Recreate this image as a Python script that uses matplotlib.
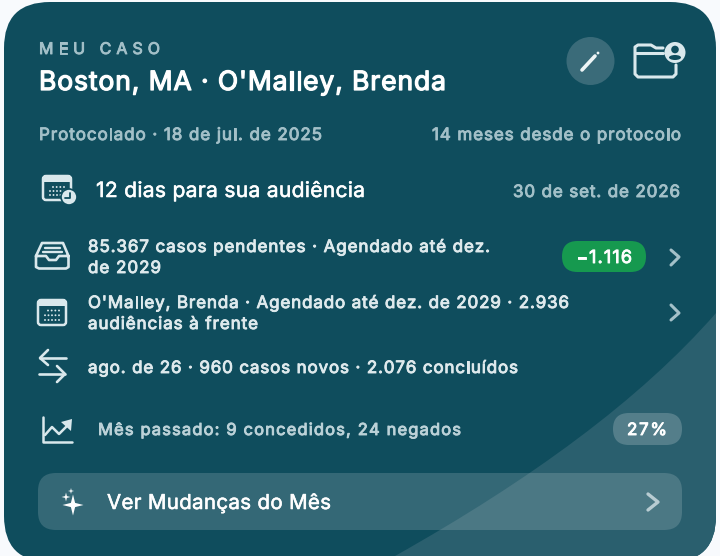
import numpy as np
import matplotlib
matplotlib.use("Agg")
import matplotlib.pyplot as plt
import matplotlib.patheffects as pe
from matplotlib.patches import FancyBboxPatch, Circle, Polygon, PathPatch, Rectangle, Ellipse
from matplotlib.path import Path
from matplotlib.text import Text
from matplotlib.transforms import IdentityTransform

plt.rcParams['font.family'] = ['Inter', 'DejaVu Sans']
plt.rcParams['text.hinting'] = 'no_hinting'

eyebrow = "MEU CASO"
title = "Boston, MA · O'Malley, Brenda"
filed = "Protocolado · 18 de jul. de 2025"
since = "14 meses desde o protocolo"
hearing = "12 dias para sua audiência"
hearing_date = "30 de set. de 2026"
row1 = ["85.367 casos pendentes · Agendado até dez.", "de 2029"]
row2 = ["O'Malley, Brenda · Agendado até dez. de 2029 · 2.936", "audiências à frente"]
row3 = "ago. de 26 · 960 casos novos · 2.076 concluídos"
row4 = "Mês passado: 9 concedidos, 24 negados"
delta = "−1.116"
rate = "27%"
button = "Ver Mudanças do Mês"

CARD = '#0f4d5d'; WAVE = '#2a5f6e'; MUTED = '#a3c0c8'; SOFT = '#dfeaed'; ICON = '#d9e8ec'

fig = plt.figure(figsize=(7.2, 5.56), dpi=100, facecolor='#f8fafd')
ax = fig.add_axes([0, 0, 1, 1])
ax.set_xlim(0, 720); ax.set_ylim(556, 0); ax.axis('off')


class TrackedText(Text):
    """One text artist with its full string, laid out to a given width (CSS letter-spacing)."""
    target = None

    def _natural(self, renderer, s):
        return renderer.get_text_width_height_descent(s, self.get_fontproperties(), False)[0] if s else 0.0

    def draw(self, renderer):
        s = self.get_text()
        x, y = self.get_transform().transform(self.get_position())
        full = self._natural(renderer, s)
        total = self.target if self.target else full
        track = (total - full) / max(len(s) - 1, 1)
        ha = self.get_ha()
        x0 = x - total if ha == 'right' else x - total / 2 if ha == 'center' else x
        for i, ch in enumerate(s):
            if ch == ' ':
                continue
            t = Text(x0 + self._natural(renderer, s[:i + 1]) - self._natural(renderer, ch) + i * track, y, ch,
                     transform=IdentityTransform(), fontproperties=self.get_fontproperties(),
                     color=self.get_color(), va='baseline', ha='left', path_effects=self.get_path_effects())
            t.set_figure(self.get_figure())
            t.draw(renderer)


def rrect(x0, y0, x1, y1, r, **kw):
    p = FancyBboxPatch((x0 + r, y0 + r), x1 - x0 - 2 * r, y1 - y0 - 2 * r,
                       boxstyle=f"round,pad={r},rounding_size={r}", lw=kw.pop('lw', 0), **kw)
    ax.add_patch(p)
    return p

def polyline(pts, lw=2, color=ICON, z=5):
    a = np.array(pts)
    ax.plot(a[:, 0], a[:, 1], color=color, lw=lw, solid_capstyle='round', solid_joinstyle='round', zorder=z)

def label(x, y, s, px, color, width=None, bold=0.65, ha='left'):
    t = TrackedText(x, y, s, fontsize=px * 0.72, color=color, ha=ha, va='baseline', zorder=6,
                    transform=ax.transData,
                    path_effects=[pe.withStroke(linewidth=bold, foreground=color)] if bold else None)
    t.target = width
    ax.add_artist(t)
    return t

# card and wave
card = rrect(4, 2, 716, 562, 46, facecolor=CARD, zorder=1)
wv = Path([(716, 313), (640, 400), (530, 480), (395, 556), (395, 600), (716, 600), (716, 313)],
          [Path.MOVETO, Path.CURVE4, Path.CURVE4, Path.CURVE4, Path.LINETO, Path.LINETO, Path.CLOSEPOLY])
wave = PathPatch(wv, facecolor=WAVE, lw=0, zorder=2)
ax.add_patch(wave)
wave.set_clip_path(card)

# header
label(39, 54, eyebrow, 16, MUTED, width=121)
label(39, 90, title, 26.5, 'white', width=407, bold=0.9)
ax.add_patch(Circle((590.5, 61), 24, facecolor='#3a6b79', lw=0, zorder=3))
polyline([(582, 70), (595, 56)], lw=2.6, color='#eef5f6')
ax.add_patch(Circle((598, 53), 1.4, facecolor='#eef5f6', lw=0, zorder=5))

# folder icon
polyline([(663, 48), (656, 48), (651, 45), (638, 45), (635, 47), (635, 74), (638, 77), (673, 77), (676, 74), (676, 65)], lw=2.2)
polyline([(636, 53), (663, 53)], lw=2.2)
ax.add_patch(Circle((675, 52.5), 10.5, facecolor=ICON, lw=0, zorder=5))
ax.add_patch(Circle((675, 49.5), 3.8, facecolor=CARD, lw=0, zorder=6))
ax.add_patch(Ellipse((675, 57.5), 12, 5, facecolor=CARD, lw=0, zorder=6))

# filed row
label(39, 140, filed, 17, MUTED, width=283)
label(681, 140, since, 17, MUTED, width=249, ha='right')

# calendar + clock
def calendar(x0, y0, x1, y1, head=6):
    rrect(x0, y0, x1, y1, 3, facecolor='none', edgecolor=ICON, lw=1.8, zorder=5)
    ax.add_patch(Rectangle((x0, y0), x1 - x0, head, facecolor=ICON, lw=0, zorder=5))
    for i, yy in enumerate(np.linspace(y0 + head + 5, y1 - 5, 3)):
        for xx in np.linspace(x0 + 7 + (3 if i == 0 else 0), x1 - 7, 5 if i else 4):
            ax.add_patch(Circle((xx, yy), 0.95, facecolor=ICON, lw=0, zorder=5))

calendar(43, 176, 71, 200, head=6)
ax.add_patch(Circle((69, 197), 8, facecolor=ICON, edgecolor=CARD, lw=1.2, zorder=6))
polyline([(69.5, 192.5), (69.5, 197.5), (65, 197.5)], lw=1.3, color=CARD, z=7)
label(96, 197, hearing, 21, 'white', width=269, bold=0.4)
label(680, 197, hearing_date, 17, MUTED, width=167, ha='right')

# inbox icon
polyline([(36, 256), (36, 267), (39, 268.5), (66, 268.5), (68.5, 267), (68.5, 256), (63, 243), (42, 243), (36, 256),
          (46, 256), (49, 260), (56, 260), (59, 256), (68.5, 256)], lw=1.9)
polyline([(45, 248), (60, 248)], lw=1.7)
polyline([(43, 252), (62, 252)], lw=1.7)

label(88, 252, row1[0], 17, SOFT, width=402)
label(88, 273, row1[1], 17, SOFT, width=73)
rrect(562, 241, 646, 272, 15.5, facecolor='#16994f', zorder=5)
label(604, 263, delta, 18, 'white', width=56, ha='center')
polyline([(671, 250), (679, 257), (671, 265)], lw=2.2, color=MUTED)

# calendar row
calendar(38, 300, 66, 325, head=5.5)
label(88, 308, row2[0], 17, SOFT, width=481)
label(88, 329, row2[1], 17, SOFT, width=170)
polyline([(671, 305), (679, 313), (671, 320)], lw=2.2, color=MUTED)

# transfer arrows
polyline([(66, 358), (40, 358)], lw=1.9)
polyline([(48, 350), (40, 358), (48, 365)], lw=1.9)
polyline([(39, 374), (65, 374)], lw=1.9)
polyline([(57, 366), (65, 374), (57, 382)], lw=1.9)
label(88, 373, row3, 17, SOFT, width=430)

# trend icon
polyline([(43, 417), (43, 442), (72, 442)], lw=1.8)
polyline([(45, 435), (52, 427), (59, 434), (69, 424)], lw=1.8)
ax.add_patch(Polygon([(61, 422), (72, 419), (71, 431)], facecolor=ICON, lw=0, zorder=5))
label(98, 435, row4, 16.5, '#bcd2d8', width=363)
rrect(613, 413, 682, 445, 16, facecolor='#ffffff', alpha=0.2, zorder=5)
label(647, 435, rate, 17, 'white', width=40, ha='center')

# button
rrect(38, 473, 682, 530, 18, facecolor='#ffffff', alpha=0.155, zorder=4)
def star(cx, cy, r):
    w = r * 0.2
    ax.add_patch(Polygon([(cx, cy - r), (cx + w, cy - w), (cx + r, cy), (cx + w, cy + w), (cx, cy + r), (cx - w, cy + w), (cx - r, cy), (cx - w, cy - w)],
                         facecolor='white', lw=0, zorder=6))
star(73, 505, 10.5); star(66, 497, 4.5); star(71, 491, 3)
label(107, 509, button, 20.5, 'white', width=224, bold=0.4)
polyline([(648, 494), (658, 502), (648, 510)], lw=2.4, color='#b8ccd2')

fig.savefig("out.png", dpi=100, facecolor=fig.get_facecolor())
